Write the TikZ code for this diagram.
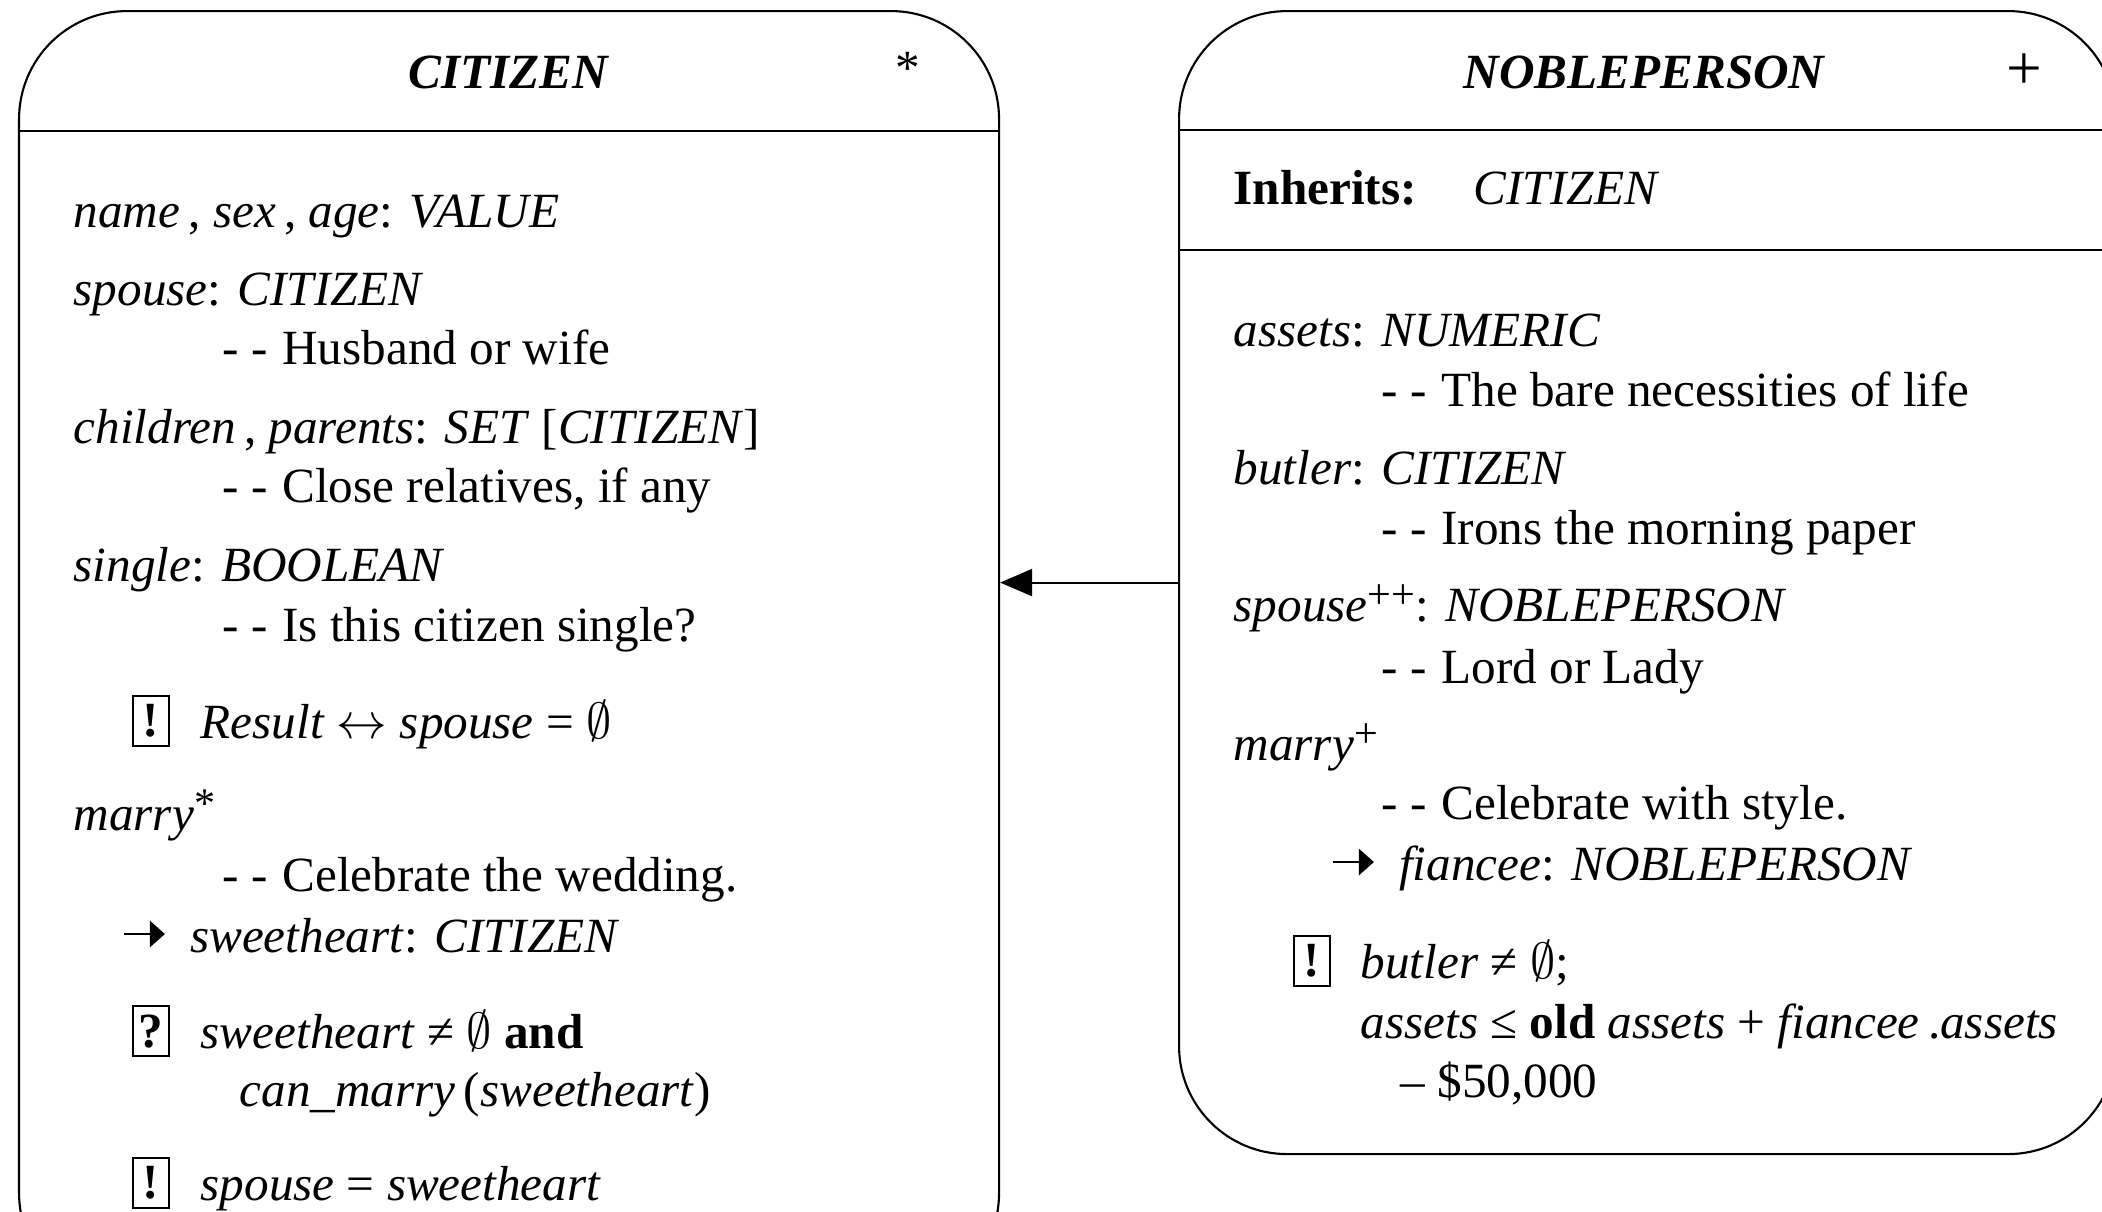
\documentclass[tikz,border=0pt]{standalone}
\usepackage{fontspec}
\setmainfont{Liberation Serif}
\usepackage{amssymb}
\usetikzlibrary{arrows.meta,positioning}
\newcommand{\bsize}{\fontsize{14pt}{17pt}\selectfont}
\newcommand{\cornr}{1.08cm}
\newcommand{\dashdash}{-\hspace{0.12cm}-\hspace{0.15cm}}
\newcommand{\supmark}[1]{\raisebox{0.55ex}{\fontsize{12pt}{12pt}\selectfont #1}}
\newcommand{\sendarrow}{\tikz[baseline=-0.18cm]\draw[line width=0.7pt,-{Triangle[length=0.15cm,width=0.26cm]}] (0,0) -- (0.41,0);}

\tikzset{
  classbox/.style={draw, line width=0.6pt, rounded corners=\cornr, inner sep=0pt, anchor=north west},
  feat/.style={anchor=base west, inner sep=0pt, font=\bsize},
  ctitle/.style={anchor=base, inner sep=0pt, font=\bsize\bfseries\itshape},
  assertbox/.style={draw, line width=0.5pt, anchor=south west, minimum width=0.36cm, minimum height=0.50cm, inner sep=0pt, font=\bsize\bfseries},
  inherit/.style={line width=0.6pt, -{Triangle[length=0.32cm,width=0.27cm]}}
}

\begin{document}
\begin{tikzpicture}
        \useasboundingbox (0,0) rectangle (21.02,-12.11);
        \clip (0,0) rectangle (21.02,-12.11);

        \node[classbox, minimum width=9.80cm, minimum height=12.90cm] (citizen) at (0.18,-0.10) {};
        \node[classbox, minimum width=9.37cm, minimum height=11.43cm] (noble) at (11.78,-0.10) {};

        \draw[line width=0.6pt] (citizen.west |- 0,-1.31) -- (citizen.east |- 0,-1.31);
        \draw[line width=0.6pt] (noble.west |- 0,-1.30) -- (noble.east |- 0,-1.30);
        \draw[line width=0.6pt] (noble.west |- 0,-2.50) -- (noble.east |- 0,-2.50);

        \draw[inherit] (noble.west) -- (noble.west -| citizen.east);

        \node[ctitle] (ctname) at (5.08,-0.88) {CITIZEN};
        \node[feat, anchor=base] (ctmark) at (9.08,-0.84) {*};
        \node[ctitle] (nbname) at (16.44,-0.88) {NOBLEPERSON};
        \node[feat, anchor=base, font=\fontsize{18pt}{18pt}\selectfont] (nbmark) at (20.24,-0.89) {+};

        \node[feat] (c1) at (0.73,-2.27) {\textit{name}\,, \textit{sex}\,, \textit{age}: \textit{VALUE}};
        \node[feat] (c2) at (0.73,-3.05) {\textit{spouse}: \textit{CITIZEN}};
        \node[feat] (c3) at (2.22,-3.64) {\dashdash Husband or wife};
        \node[feat] (c4) at (0.73,-4.43) {\textit{children}\,, \textit{parents}: \textit{SET} [\textit{CITIZEN}]};
        \node[feat] (c5) at (2.22,-5.02) {\dashdash Close relatives, if any};
        \node[feat] (c6) at (0.73,-5.81) {\textit{single}: \textit{BOOLEAN}};
        \node[feat] (c7) at (2.22,-6.41) {\dashdash Is this citizen single?};
        \node[assertbox] (c8b) at (1.32,-7.47) {!};
        \node[feat] (c8) at (2.00,-7.38) {\textit{Result} $\leftrightarrow$ \textit{spouse} = $\emptyset$};
        \node[feat] (c9) at (0.73,-8.30) {\textit{marry}\supmark{*}};
        \node[feat] (c10) at (2.22,-8.91) {\dashdash Celebrate the wedding.};
        \node[feat] (c11) at (1.22,-9.52) {\sendarrow\hspace{0.24cm}\textit{sweetheart}: \textit{CITIZEN}};
        \node[assertbox] (c12b) at (1.32,-10.57) {?};
        \node[feat] (c12) at (2.00,-10.48) {\textit{sweetheart} ≠ $\emptyset$ \textbf{and}};
        \node[feat] (c13) at (2.39,-11.06) {\textit{can\_marry}\,(\textit{sweetheart})};
        \node[assertbox] (c14b) at (1.32,-12.09) {!};
        \node[feat] (c14) at (2.00,-12.00) {\textit{spouse} = \textit{sweetheart}};

        \node[feat] (n1) at (12.33,-2.04) {\textbf{Inherits:}};
        \node[feat] (n1b) at (14.73,-2.04) {\textit{CITIZEN}};
        \node[feat] (n2) at (12.33,-3.46) {\textit{assets}: \textit{NUMERIC}};
        \node[feat] (n3) at (13.81,-4.06) {\dashdash The bare necessities of life};
        \node[feat] (n4) at (12.33,-4.84) {\textit{butler}: \textit{CITIZEN}};
        \node[feat] (n5) at (13.81,-5.44) {\dashdash Irons the morning paper};
        \node[feat] (n6) at (12.33,-6.21) {\textit{spouse}\supmark{++}: \textit{NOBLEPERSON}};
        \node[feat] (n7) at (13.81,-6.83) {\dashdash Lord or Lady};
        \node[feat] (n8) at (12.33,-7.60) {\textit{marry}\supmark{+}};
        \node[feat] (n9) at (13.81,-8.19) {\dashdash Celebrate with style.};
        \node[feat] (n10) at (13.31,-8.80) {\sendarrow\hspace{0.24cm}\textit{fiancee}: \textit{NOBLEPERSON}};
        \node[assertbox] (n11b) at (12.93,-9.87) {!};
        \node[feat] (n11) at (13.60,-9.78) {\textit{butler} ≠ $\emptyset$;};
        \node[feat] (n12) at (13.60,-10.38) {\textit{assets} ≤ \textbf{old} \textit{assets} + \textit{fiancee}\,.\textit{assets}};
        \node[feat] (n13) at (14.00,-10.97) {– \$50,000};

    \end{tikzpicture}
\end{document}
